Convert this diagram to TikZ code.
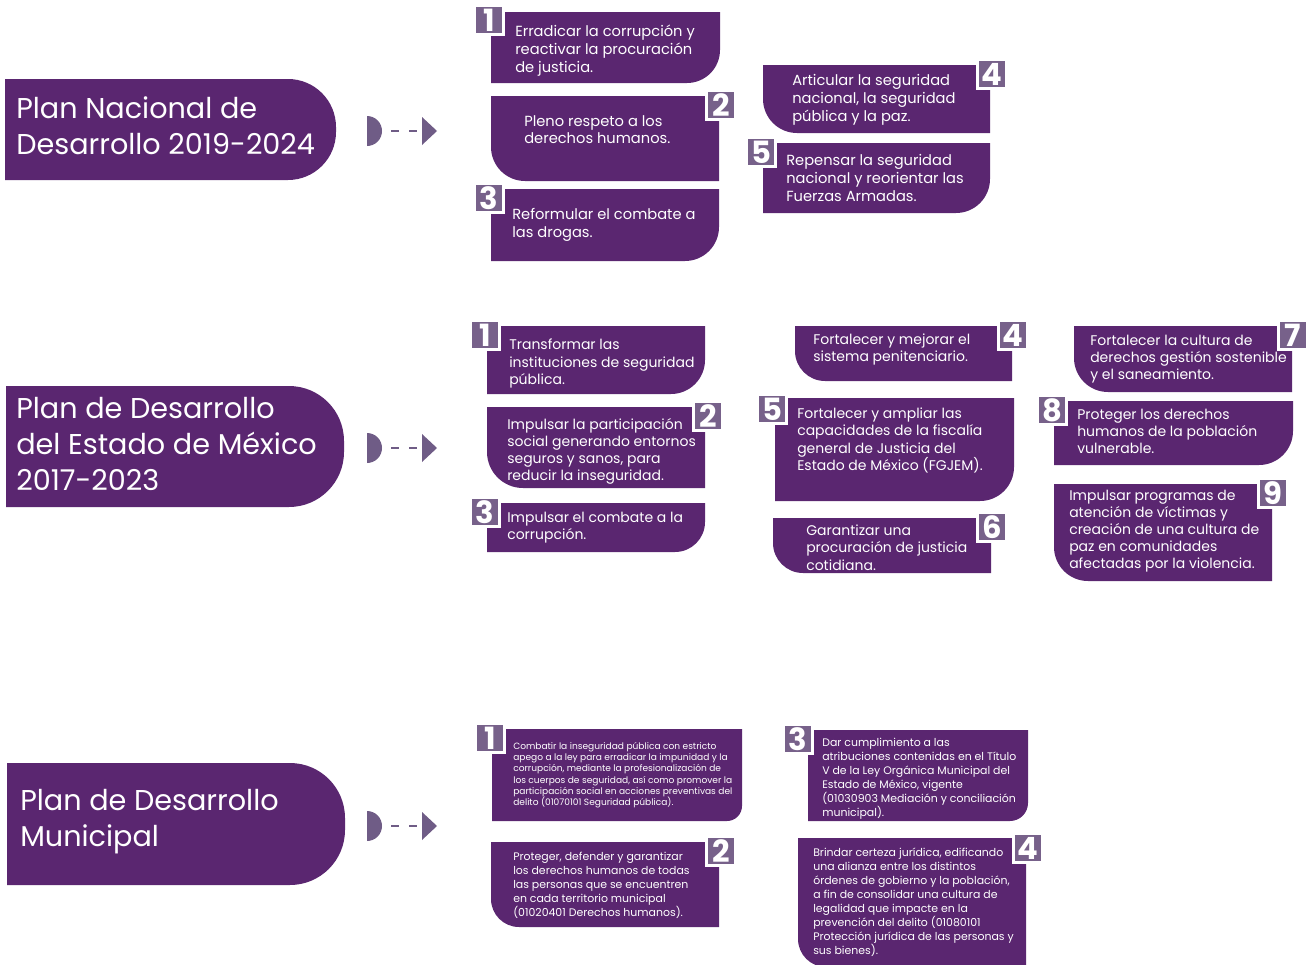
\documentclass[tikz,border=0pt]{standalone}
\usepackage{fontspec}
\setmainfont{Poppins}
\usetikzlibrary{calc,fit}
\definecolor{plum}{HTML}{5A2670}
\definecolor{badgec}{HTML}{77618A}
\definecolor{arrowc}{HTML}{6F5C86}
\tikzset{
  boxnode/.style={inner sep=0pt, outer sep=0pt},
  badge/.style={fill=badgec, draw=white, line width=2pt, minimum size=21.5pt, inner sep=0pt, text=white, font=\fontsize{23}{23}\selectfont\bfseries},
  txtbase/.style={text=white, align=left, inner sep=0pt, anchor=north west, yshift=-1.5pt},
  txtA/.style={txtbase, font=\fontsize{11}{13.4}\selectfont},
  txtB/.style={txtbase, font=\fontsize{10.5}{12.8}\selectfont},
  txtC/.style={txtbase, font=\fontsize{6.8}{8.45}\selectfont},
  txtD/.style={txtbase, font=\fontsize{8.2}{10.5}\selectfont},
  title/.style={txtbase, font=\fontsize{21.5}{27}\selectfont},
  dashline/.style={arrowc, line width=2.2pt, dash pattern=on 6pt off 7.5pt},
  arrowfill/.style={fill=arrowc}
}
% box with bottom-right rounded corner: name, (x1,y1), (x2,y2), radius in px
\newcommand\boxBR[4]{%
  \node[boxnode, fit={#2 #3}] (#1) {};
  \fill[plum] let \p1=(#1.north west), \p2=(#1.south east) in
    (\x1,\y1) -- (\x2,\y1) -- (\x2,\y2+#4*0.75pt)
    .. controls (\x2,\y2+0.448*#4*0.75pt) and (\x2-0.448*#4*0.75pt,\y2) .. (\x2-#4*0.75pt,\y2)
    -- (\x1,\y2) -- cycle;}
% box with bottom-left rounded corner
\newcommand\boxBL[4]{%
  \node[boxnode, fit={#2 #3}] (#1) {};
  \fill[plum] let \p1=(#1.north west), \p2=(#1.south east) in
    (\x1,\y1) -- (\x2,\y1) -- (\x2,\y2) -- (\x1+#4*0.75pt,\y2)
    .. controls (\x1+0.448*#4*0.75pt,\y2) and (\x1,\y2+0.448*#4*0.75pt) .. (\x1,\y2+#4*0.75pt)
    -- cycle;}
% title box with rounded right end
\newcommand\boxT[4]{%
  \node[boxnode, fit={#2 #3}] (#1) {};
  \fill[plum] let \p1=(#1.north west), \p2=(#1.south east) in
    (\x1,\y1) -- (\x2-#4*0.75pt,\y1)
    .. controls (\x2-0.448*#4*0.75pt,\y1) and (\x2,\y1-0.448*#4*0.75pt) .. (\x2,\y1-#4*0.75pt)
    -- (\x2,\y2+#4*0.75pt)
    .. controls (\x2,\y2+0.448*#4*0.75pt) and (\x2-0.448*#4*0.75pt,\y2) .. (\x2-#4*0.75pt,\y2)
    -- (\x1,\y2) -- cycle;}
% arrow icon: name prefix, y centre
\newcommand\arrowicon[2]{%
  \coordinate (#1d) at (367,#2);
  \coordinate (#1s) at (391,#2);
  \coordinate (#1e) at (419,#2);
  \coordinate (#1t) at (422,#2);
  \fill[arrowfill] (367,#2+15) arc[start angle=-90, end angle=90, radius=11.25pt] -- cycle;
  \draw[dashline] (#1s) -- (#1e);
  \fill[arrowfill] (#1t) ++(0,-14) -- ++(15,14) -- ++(-15,14) -- cycle;}
\begin{document}
\begin{tikzpicture}[x=0.75pt,y=-0.75pt]
\useasboundingbox (0,0) rectangle (1310,964);

% ---------------- Section 1 ----------------
\boxT{t1}{(5,79)}{(336,180)}{48}
\node[title] (t1txt) at (16,94) {Plan Nacional de\\Desarrollo 2019-2024};
\arrowicon{a1}{131}

\boxBR{n1}{(491,12)}{(720,83)}{33}
\boxBL{n2}{(491,96)}{(719,181)}{34}
\boxBR{n3}{(491,189)}{(719,261)}{34}
\boxBL{n4}{(763,65)}{(990,133)}{34}
\boxBR{n5}{(763,143)}{(990,213)}{34}

\node[txtA] (n1t) at (515,23) {Erradicar la corrupción y\\reactivar la procuración\\de justicia.};
\node[txtA] (n2t) at (524,113) {Pleno respeto a los\\derechos humanos.};
\node[txtA] (n3t) at (512,206) {Reformular el combate a\\las drogas.};
\node[txtA] (n4t) at (792,72) {Articular la seguridad\\nacional, la seguridad\\pública y la paz.};
\node[txtA] (n5t) at (786,152) {Repensar la seguridad\\nacional y reorientar las\\Fuerzas Armadas.};

\node[badge] (n1b) at (489,20) {1};
\node[badge] (n2b) at (721,105) {2};
\node[badge] (n3b) at (489,198) {3};
\node[badge] (n4b) at (992,74) {4};
\node[badge] (n5b) at (761,152) {5};

% ---------------- Section 2 ----------------
\boxT{t2}{(6,386)}{(344,507)}{55}
\node[title] (t2txt) at (16,395) {Plan de Desarrollo\\del Estado de México\\2017-2023};
\arrowicon{a2}{448}

\boxBR{e1}{(487,326)}{(705,394)}{34}
\boxBL{e2}{(487,407)}{(705,488)}{36}
\boxBR{e3}{(487,503)}{(705,552)}{30}
\boxBL{e4}{(795,326)}{(1012,381)}{30}
\boxBR{e5}{(775,398)}{(1014,501)}{34}
\boxBL{e6}{(773,518)}{(991,573)}{30}
\boxBL{e7}{(1074,326)}{(1292,392)}{34}
\boxBR{e8}{(1054,401)}{(1293,465)}{34}
\boxBL{e9}{(1054,484)}{(1272,581)}{34}

\node[txtB] (e1t) at (509,337) {Transformar las\\instituciones de seguridad\\pública.};
\node[txtB] (e2t) at (507,416) {Impulsar la participación\\social generando entornos\\seguros y sanos, para\\reducir la inseguridad.};
\node[txtB] (e3t) at (507,510) {Impulsar el combate a la\\corrupción.};
\node[txtB] (e4t) at (813,332) {Fortalecer y mejorar el\\sistema penitenciario.};
\node[txtB] (e5t) at (797,406) {Fortalecer y ampliar las\\capacidades de la fiscalía\\general de Justicia del\\Estado de México (FGJEM).};
\node[txtB] (e6t) at (806,523) {Garantizar una\\procuración de justicia\\cotidiana.};
\node[txtB] (e7t) at (1090,333) {Fortalecer la cultura de\\derechos gestión sostenible\\y el saneamiento.};
\node[txtB] (e8t) at (1077,407) {Proteger los derechos\\humanos de la población\\vulnerable.};
\node[txtB] (e9t) at (1069,488) {Impulsar programas de\\atención de víctimas y\\creación de una cultura de\\paz en comunidades\\afectadas por la violencia.};

\node[badge] (e1b) at (485,335) {1};
\node[badge] (e2b) at (708,416) {2};
\node[badge] (e3b) at (485,512) {3};
\node[badge] (e4b) at (1013,335) {4};
\node[badge] (e5b) at (772,409) {5};
\node[badge] (e6b) at (992,527) {6};
\node[badge] (e7b) at (1293,335) {7};
\node[badge] (e8b) at (1052,410) {8};
\node[badge] (e9b) at (1273,493) {9};

% ---------------- Section 3 ----------------
\boxT{t3}{(7,763)}{(345,885)}{55}
\node[title] (t3txt) at (20,787) {Plan de Desarrollo\\Municipal};
\arrowicon{a3}{826}

\boxBR{m1}{(492,729)}{(742,821)}{15}
\boxBL{m2}{(491,842)}{(719,927)}{28}
\boxBR{m3}{(808,730)}{(1028,821)}{18}
\boxBL{m4}{(798,838)}{(1026,967)}{28}

\node[txtC] (m1t) at (513,740) {Combatir la inseguridad pública con estricto\\apego a la ley para erradicar la impunidad y la\\corrupción, mediante la profesionalización de\\los cuerpos de seguridad, así como promover la\\participación social en acciones preventivas del\\delito (01070101 Seguridad pública).};
\node[txtD] (m2t) at (513,850) {Proteger, defender y garantizar\\los derechos humanos de todas\\las personas que se encuentren\\en cada territorio municipal\\(01020401 Derechos humanos).};
\node[txtD] (m3t) at (822,736) {Dar cumplimiento a las\\atribuciones contenidas en el Título\\V de la Ley Orgánica Municipal del\\Estado de México, vigente\\(01030903 Mediación y conciliación\\municipal).};
\node[txtD] (m4t) at (813,846) {Brindar certeza jurídica, edificando\\una alianza entre los distintos\\órdenes de gobierno y la población,\\a fin de consolidar una cultura de\\legalidad que impacte en la\\prevención del delito (01080101\\Protección jurídica de las personas y\\sus bienes).};

\node[badge] (m1b) at (490,738) {1};
\node[badge] (m2b) at (721,851) {2};
\node[badge] (m3b) at (798,739) {3};
\node[badge] (m4b) at (1028,848) {4};
\end{tikzpicture}
\end{document}
